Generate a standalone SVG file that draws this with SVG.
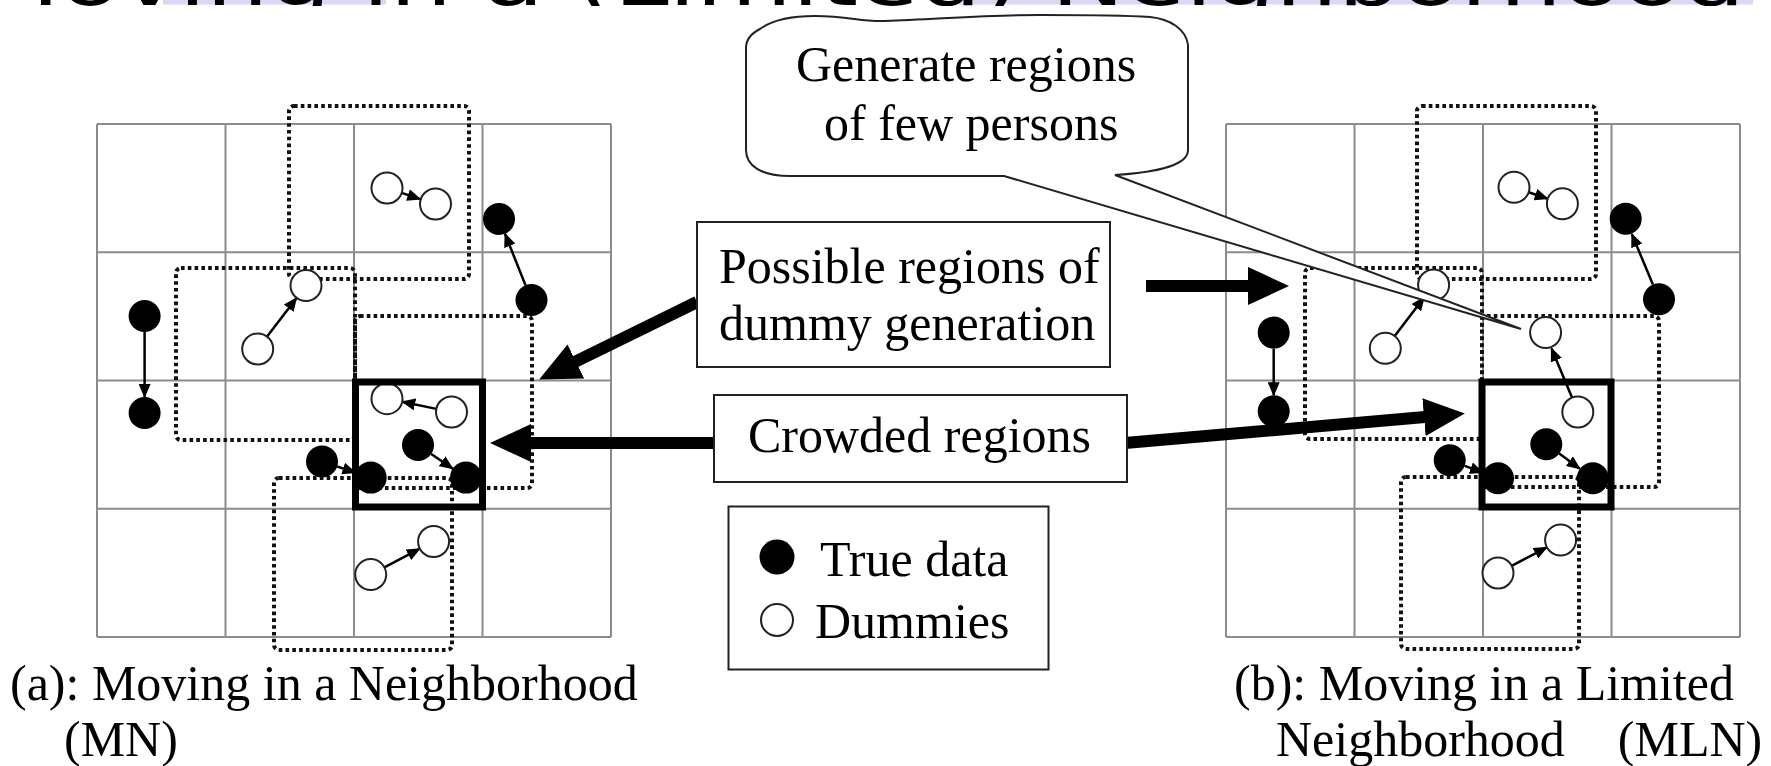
<svg xmlns="http://www.w3.org/2000/svg" width="1771" height="766" viewBox="0 0 1771 766">
<style>
.grid{stroke:#8c8c8c;stroke-width:2;fill:none}
.dot{fill:none;stroke:#111;stroke-width:4;stroke-dasharray:3.6 3.2}
.bold{fill:none;stroke:#000;stroke-width:7}
.tf{fill:#000}
.du{fill:#fff;stroke:#222;stroke-width:2}
.sa{stroke:#000;stroke-width:2.5;fill:none;marker-end:url(#sm)}
.ba{stroke:#000;stroke-width:12;fill:none;marker-end:url(#bm)}
.box{fill:#fff;stroke:#222;stroke-width:2}
.lbl{font-family:"Liberation Serif","Times New Roman",serif;font-size:50px;fill:#000}
.ttl{font-family:"DejaVu Sans",sans-serif;font-size:72px;fill:#000}
</style>
<defs>
<marker id="sm" markerUnits="userSpaceOnUse" markerWidth="14" markerHeight="12" refX="13" refY="6" orient="auto" viewBox="0 0 14 12"><path d="M0,0 L14,6 L0,12 Z" fill="#000"/></marker>
<marker id="bm" markerUnits="userSpaceOnUse" markerWidth="42" markerHeight="38" refX="1" refY="19" orient="auto" viewBox="0 0 42 38"><path d="M0,0 L41,19 L0,38 Z" fill="#000"/></marker>
<clipPath id="tc"><rect x="0" y="0" width="1771" height="6"/></clipPath>
</defs>
<rect width="1771" height="766" fill="#fff"/>
<g id="title" clip-path="url(#tc)">
<rect x="163" y="0" width="223" height="4.5" fill="#dad8f0"/>
<rect x="958" y="0" width="795" height="4.5" fill="#dad8f0"/>
<text class="ttl" x="-25" y="5" textLength="1770" lengthAdjust="spacingAndGlyphs">Moving in a (Limited) Neighborhood</text>
</g>
<g id="panel-a">
<path class="grid" d="M97,124H611M97,252.3H611M97,380.5H611M97,508.8H611M97,637H611M97,124V637M225.5,124V637M354,124V637M482.5,124V637M611,124V637"/>
<rect class="dot" x="289" y="106" width="180" height="173" rx="5"/>
<rect class="dot" x="176" y="268" width="179" height="172" rx="5"/>
<rect class="dot" x="355" y="316" width="177" height="172" rx="5"/>
<rect class="dot" x="274" y="478" width="178" height="172" rx="5"/>
<g id="a-arrows">
<line class="sa" x1="401.7" y1="192.9" x2="420.3" y2="199.1"/>
<line class="sa" x1="525.5" y1="285.2" x2="505" y2="233.8"/>
<line class="sa" x1="267.1" y1="336.6" x2="296.6" y2="297.9"/>
<line class="sa" x1="144.6" y1="332" x2="144.6" y2="397"/>
<line class="sa" x1="436.3" y1="408.9" x2="402.2" y2="401.8"/>
<line class="sa" x1="431.2" y1="454" x2="452.8" y2="468.6"/>
<line class="sa" x1="337.2" y1="466.5" x2="355.5" y2="472.6"/>
<line class="sa" x1="384.4" y1="567.4" x2="419.9" y2="548.7"/>
</g>
<circle class="du" cx="387" cy="188" r="15.5"/>
<circle class="du" cx="435.5" cy="204" r="15.5"/>
<circle class="tf" cx="499" cy="219" r="16"/>
<circle class="tf" cx="531.5" cy="300" r="16"/>
<circle class="du" cx="306" cy="285.6" r="15.5"/>
<circle class="du" cx="257.7" cy="349" r="15.5"/>
<circle class="tf" cx="144.6" cy="316" r="16"/>
<circle class="tf" cx="144.6" cy="413" r="16"/>
<circle class="du" cx="387" cy="398.7" r="15.5"/>
<circle class="du" cx="451.5" cy="412" r="15.5"/>
<circle class="tf" cx="418" cy="445" r="16"/>
<circle class="tf" cx="466" cy="477.6" r="16"/>
<circle class="tf" cx="322" cy="461.5" r="16"/>
<circle class="tf" cx="370.7" cy="477.6" r="16"/>
<circle class="du" cx="370.7" cy="574.6" r="15.5"/>
<circle class="du" cx="433.6" cy="541.5" r="15.5"/>
<rect class="bold" x="355.5" y="382" width="127" height="125"/>
</g>
<g id="panel-b">
<path class="grid" d="M1226,124H1740M1226,252.3H1740M1226,380.5H1740M1226,508.8H1740M1226,637H1740M1226,124V637M1354.5,124V637M1483,124V637M1611.5,124V637M1740,124V637"/>
<rect class="dot" x="1417" y="106" width="179" height="173" rx="5"/>
<rect class="dot" x="1305" y="268" width="177" height="171" rx="5"/>
<rect class="dot" x="1482" y="316" width="177" height="171" rx="5"/>
<rect class="dot" x="1401" y="477" width="178" height="172" rx="5"/>
<g id="b-arrows">
<line class="sa" x1="1528.7" y1="192.3" x2="1547.7" y2="198.8"/>
<line class="sa" x1="1652.9" y1="284.5" x2="1631.8" y2="234"/>
<line class="sa" x1="1394.7" y1="336" x2="1424.2" y2="297.3"/>
<line class="sa" x1="1273.7" y1="348.6" x2="1273.7" y2="395.3"/>
<line class="sa" x1="1572" y1="397.6" x2="1551.4" y2="348.2"/>
<line class="sa" x1="1559.2" y1="453.6" x2="1579.9" y2="468.8"/>
<line class="sa" x1="1464.7" y1="465.9" x2="1483" y2="472.6"/>
<line class="sa" x1="1511.7" y1="565.8" x2="1546.9" y2="547.3"/>
</g>
<circle class="du" cx="1514" cy="187.3" r="15.5"/>
<circle class="du" cx="1562.4" cy="203.8" r="15.5"/>
<circle class="tf" cx="1625.7" cy="218.8" r="16"/>
<circle class="tf" cx="1659" cy="299.3" r="16"/>
<circle class="du" cx="1433.6" cy="285" r="15.5"/>
<circle class="du" cx="1385.3" cy="348.3" r="15.5"/>
<circle class="tf" cx="1273.7" cy="332.6" r="16"/>
<circle class="tf" cx="1273.7" cy="411.3" r="16"/>
<circle class="du" cx="1545.6" cy="332.6" r="15.5"/>
<circle class="du" cx="1577.8" cy="412" r="15.5"/>
<circle class="tf" cx="1546.3" cy="444.2" r="16"/>
<circle class="tf" cx="1592.8" cy="478.2" r="16"/>
<circle class="tf" cx="1449.7" cy="460.3" r="16"/>
<circle class="tf" cx="1498" cy="478.2" r="16"/>
<circle class="du" cx="1498" cy="573" r="15.5"/>
<circle class="du" cx="1560.6" cy="540.1" r="15.5"/>
<rect class="bold" x="1482" y="382" width="129" height="125"/>
</g>
<g id="connectors">
<line class="ba" x1="697" y1="302" x2="575" y2="361.9"/>
<line class="ba" x1="714" y1="443" x2="530" y2="443"/>
<line class="ba" x1="1146" y1="286" x2="1249" y2="286"/>
<line class="ba" x1="1125" y1="443" x2="1425" y2="417"/>
</g>
<g id="callout">
<path class="box" d="M760,29 C775,18 800,16 815,16 C850,16 860,22 885,21 C940,19 990,15 1040,15 C1080,15 1120,15 1150,17 C1170,19 1186,29 1188,45 L1188,150 C1188,165 1160,172 1115,175 L1521,329 L1004,176 L790,176 C760,176 746,165 746,150 L746,48 C746,39 752,33 760,29 Z"/>
<text class="lbl" x="796" y="81">Generate regions</text>
<text class="lbl" x="824" y="140">of few persons</text>
</g>
<g id="possible">
<rect class="box" x="697" y="222" width="413" height="145"/>
<text class="lbl" x="719" y="283">Possible regions of</text>
<text class="lbl" x="719" y="340">dummy generation</text>
</g>
<g id="crowded">
<rect class="box" x="714" y="395" width="413" height="87"/>
<text class="lbl" x="748" y="452">Crowded regions</text>
</g>
<g id="legend">
<rect class="box" x="728.5" y="506.5" width="320" height="163"/>
<circle class="tf" cx="777" cy="557" r="17.5"/>
<text class="lbl" x="820" y="576">True data</text>
<circle class="du" cx="777" cy="620" r="16"/>
<text class="lbl" x="815" y="638">Dummies</text>
</g>
<g id="captions">
<text class="lbl" x="10" y="700">(a): Moving in a Neighborhood</text>
<text class="lbl" x="64" y="756">(MN)</text>
<text class="lbl" x="1234" y="700">(b): Moving in a Limited</text>
<text class="lbl" x="1276" y="756" xml:space="preserve">Neighborhood  <tspan dx="28">(MLN)</tspan></text>
</g>
</svg>
